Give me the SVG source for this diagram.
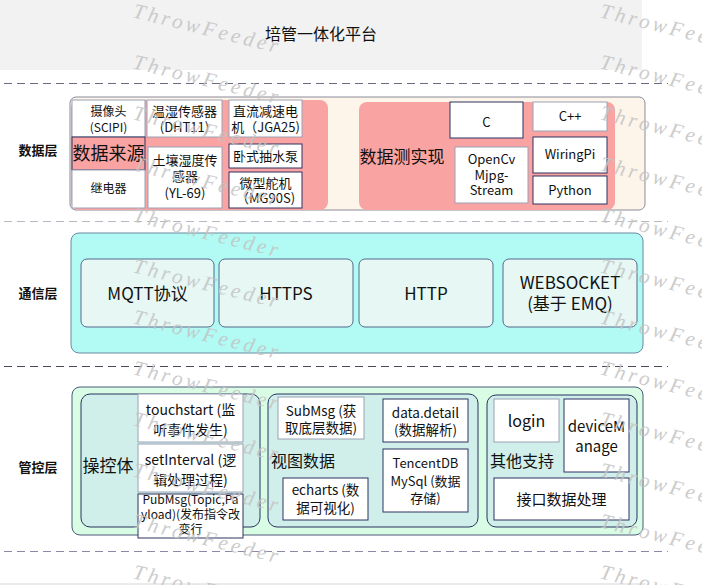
<svg xmlns="http://www.w3.org/2000/svg" width="702" height="585" viewBox="0 0 702 585">
<style>
text{font-family:'Noto Sans CJK SC','Noto Sans',sans-serif;fill:#111;text-anchor:middle}
.s12{font-size:12px}.s13{font-size:13px}.s14{font-size:14px}.s16{font-size:16px}.s17{font-size:17px}
.lbl{font-size:13px;font-weight:bold}
.wb{fill:#fff;stroke:#9aa2b5;stroke-width:1}
.wn{fill:#fff;stroke:#2d3360;stroke-width:1}
.pink{fill:#faa3a3}
.cbox{fill:#e6f7f4;stroke:#56688a;stroke-width:1}
.grp{fill:#d1efea;stroke:#283260;stroke-width:1}
.dash{stroke-dasharray:8 5;stroke-width:1;fill:none}
.wm{font-family:'Liberation Serif',serif;font-size:21px;font-style:italic;letter-spacing:3.5px;fill:#c4c4c4;text-anchor:start;opacity:0.85}
</style>
<rect width="702" height="585" fill="#fff"/>
<g id="title">
<rect x="0" y="0" width="642" height="70" fill="#f2f2f2"/>
<text x="321" y="40" class="s16">培管一体化平台</text>
</g>
<g id="separators">
<line x1="4" y1="83.5" x2="668" y2="83.5" class="dash" stroke="#6b6b88"/>
<line x1="4" y1="221.5" x2="668" y2="221.5" class="dash" stroke="#b8b8c4"/>
<line x1="4" y1="366.5" x2="668" y2="366.5" class="dash" stroke="#4a4a5a"/>
<line x1="4" y1="551.5" x2="668" y2="551.5" class="dash" stroke="#8a8aa8"/>
<rect x="0" y="583" width="645" height="2" fill="#ebebeb"/>
</g>
<g id="layer-labels">
<text x="38" y="155" class="lbl">数据层</text>
<text x="38" y="298" class="lbl">通信层</text>
<text x="38" y="472" class="lbl">管控层</text>
</g>
<g id="data-layer">
<rect x="70" y="97" width="575" height="113" rx="6" fill="#fdf5e9" stroke="#8b8b9b"/>
</g>
<g id="data-source">
<rect x="71" y="100" width="257" height="110" rx="8" class="pink"/>
<g id="camera"><rect x="72" y="100" width="73" height="37" class="wb"/>
<text x="108.5" y="116" class="s12">摄像头</text><text x="108.5" y="132" class="s12">(SCIPI)</text></g>
<g id="source-label"><rect x="72" y="137" width="73" height="33" class="pink" stroke="#2d3360"/>
<text x="108.5" y="160" style="font-size:18px">数据来源</text></g>
<g id="relay"><rect x="72" y="170" width="73" height="38" class="wb"/>
<text x="108.5" y="193" class="s12">继电器</text></g>
<g id="dht11"><rect x="147" y="100" width="75" height="37" class="wb"/>
<text x="184.5" y="116" class="s13">温湿传感器</text><text x="184.5" y="132" class="s13">(DHT11)</text></g>
<g id="yl69"><rect x="148" y="147" width="74" height="61" class="wb"/>
<text x="185" y="165" class="s13">土壤湿度传</text><text x="185" y="181" class="s13">感器</text><text x="185" y="198" class="s13">(YL-69)</text></g>
<g id="motor"><rect x="229" y="100" width="73" height="37" class="wb"/>
<text x="265.5" y="116" class="s13">直流减速电</text><text x="265.5" y="132" class="s13">机（JGA25)</text></g>
<g id="pump"><rect x="229" y="144" width="73" height="24" class="wn"/>
<text x="265.5" y="161" class="s13">卧式抽水泵</text></g>
<g id="servo"><rect x="229" y="172" width="73" height="36" class="wn"/>
<text x="265.5" y="188" class="s13">微型舵机</text><text x="265.5" y="203" class="s13">（MG90S)</text></g>
</g>
<g id="data-impl">
<rect x="359" y="102" width="256" height="108" rx="8" class="pink"/>
<text x="402" y="163" class="s17">数据测实现</text>
<g id="c"><rect x="450" y="102" width="73" height="36" class="wn"/><text x="486.5" y="127" class="s13">C</text></g>
<g id="cpp"><rect x="533" y="102" width="74" height="29" class="wb"/><text x="570" y="121" class="s13">C++</text></g>
<g id="opencv"><rect x="455" y="147" width="73" height="56" class="wb"/>
<text x="491.5" y="164" class="s13">OpenCv</text><text x="491.5" y="180" class="s13">Mjpg-</text><text x="491.5" y="195" class="s13">Stream</text></g>
<g id="wiringpi"><rect x="533" y="137" width="74" height="36" class="wn"/><text x="570" y="159" class="s13">WiringPi</text></g>
<g id="python"><rect x="533" y="176" width="74" height="28" class="wn"/><text x="570" y="195" class="s13">Python</text></g>
</g>
<g id="comm-layer">
<rect x="71" y="233" width="572" height="120" rx="8" fill="#b1fbf4" stroke="#6a8aa0"/>
<g id="mqtt"><rect x="81" y="259" width="133" height="68" rx="6" class="cbox"/><text x="147.5" y="300" class="s17">MQTT协议</text></g>
<g id="https"><rect x="219" y="259" width="134" height="68" rx="6" class="cbox"/><text x="286" y="300" class="s17">HTTPS</text></g>
<g id="http"><rect x="359" y="259" width="134" height="68" rx="6" class="cbox"/><text x="426" y="300" class="s17">HTTP</text></g>
<g id="websocket"><rect x="503" y="259" width="134" height="68" rx="6" class="cbox"/>
<text x="570" y="289" class="s17">WEBSOCKET</text><text x="570" y="310" class="s17">(基于 EMQ)</text></g>
</g>
<g id="control-layer">
<rect x="72" y="387" width="571" height="148" rx="8" fill="#d9fde4" stroke="#4a5a7a"/>
</g>
<g id="operator">
<rect x="81" y="394" width="179" height="133" rx="9" class="grp"/>
<text x="108" y="472" class="s17">操控体</text>
<g id="touchstart"><rect x="138" y="394" width="105" height="48" class="wb"/>
<text x="190.5" y="415" class="s14">touchstart (监</text><text x="190.5" y="435" class="s14">听事件发生)</text></g>
<g id="setinterval"><rect x="138" y="444" width="105" height="48" class="wb"/>
<text x="190.5" y="465" class="s14">setInterval (逻</text><text x="190.5" y="485" class="s14">辑处理过程)</text></g>
<g id="pubmsg"><rect x="138" y="494" width="105" height="44" class="wn"/>
<text x="190.5" y="504" style="font-size:12px">PubMsg(Topic,Pa</text><text x="190.5" y="519" style="font-size:12px">yload)(发布指令改</text><text x="190.5" y="534" style="font-size:12px">变行</text></g>
</g>
<g id="view-data">
<rect x="268" y="394" width="210" height="133" rx="9" class="grp"/>
<text x="303" y="467" class="s16">视图数据</text>
<g id="submsg"><rect x="278" y="397" width="86" height="42" class="wb"/>
<text x="321" y="416" style="font-size:13.5px">SubMsg (获</text><text x="321" y="433" style="font-size:13.5px">取底层数据)</text></g>
<g id="datadetail"><rect x="383" y="399" width="85" height="43" class="wn"/>
<text x="425.5" y="418" style="font-size:13.5px">data.detail</text><text x="425.5" y="435" style="font-size:13.5px">(数据解析)</text></g>
<g id="tencentdb"><rect x="383" y="449" width="85" height="63" class="wn"/>
<text x="425.5" y="468" style="font-size:13px">TencentDB</text><text x="425.5" y="486" style="font-size:13px">MySql (数据</text><text x="425.5" y="503" style="font-size:13px">存储)</text></g>
<g id="echarts"><rect x="283" y="478" width="85" height="42" class="wn"/>
<text x="325.5" y="495" style="font-size:13.5px">echarts (数</text><text x="325.5" y="513" style="font-size:13.5px">据可视化)</text></g>
</g>
<g id="other-support">
<rect x="487" y="395" width="150" height="132" rx="9" class="grp"/>
<text x="522" y="467" class="s16">其他支持</text>
<g id="login"><rect x="494" y="399" width="65" height="43" class="wb"/><text x="526.5" y="427" class="s16">login</text></g>
<g id="devicemanage"><rect x="564" y="399" width="65" height="73" class="wn"/>
<text x="596.5" y="432" style="font-size:15px">deviceM</text><text x="596.5" y="452" style="font-size:15px">anage</text></g>
<g id="api"><rect x="494" y="478" width="135" height="42" class="wn"/><text x="561.5" y="505" style="font-size:15px">接口数据处理</text></g>
</g>
<g id="connectors"></g>
<g id="watermark">
<text class="wm" x="132" y="17" transform="rotate(14 132 17)">ThrowFeeder</text>
<text class="wm" x="132" y="68" transform="rotate(14 132 68)">ThrowFeeder</text>
<text class="wm" x="132" y="119" transform="rotate(14 132 119)">ThrowFeeder</text>
<text class="wm" x="132" y="170" transform="rotate(14 132 170)">ThrowFeeder</text>
<text class="wm" x="132" y="221" transform="rotate(14 132 221)">ThrowFeeder</text>
<text class="wm" x="132" y="272" transform="rotate(14 132 272)">ThrowFeeder</text>
<text class="wm" x="132" y="323" transform="rotate(14 132 323)">ThrowFeeder</text>
<text class="wm" x="132" y="374" transform="rotate(14 132 374)">ThrowFeeder</text>
<text class="wm" x="132" y="425" transform="rotate(14 132 425)">ThrowFeeder</text>
<text class="wm" x="132" y="476" transform="rotate(14 132 476)">ThrowFeeder</text>
<text class="wm" x="132" y="527" transform="rotate(14 132 527)">ThrowFeeder</text>
<text class="wm" x="132" y="578" transform="rotate(14 132 578)">ThrowFeeder</text>
<text class="wm" x="599" y="17" transform="rotate(14 599 17)">ThrowFeeder</text>
<text class="wm" x="599" y="68" transform="rotate(14 599 68)">ThrowFeeder</text>
<text class="wm" x="599" y="119" transform="rotate(14 599 119)">ThrowFeeder</text>
<text class="wm" x="599" y="170" transform="rotate(14 599 170)">ThrowFeeder</text>
<text class="wm" x="599" y="221" transform="rotate(14 599 221)">ThrowFeeder</text>
<text class="wm" x="599" y="272" transform="rotate(14 599 272)">ThrowFeeder</text>
<text class="wm" x="599" y="323" transform="rotate(14 599 323)">ThrowFeeder</text>
<text class="wm" x="599" y="374" transform="rotate(14 599 374)">ThrowFeeder</text>
<text class="wm" x="599" y="425" transform="rotate(14 599 425)">ThrowFeeder</text>
<text class="wm" x="599" y="476" transform="rotate(14 599 476)">ThrowFeeder</text>
<text class="wm" x="599" y="527" transform="rotate(14 599 527)">ThrowFeeder</text>
<text class="wm" x="599" y="578" transform="rotate(14 599 578)">ThrowFeeder</text>
</g>
</svg>
